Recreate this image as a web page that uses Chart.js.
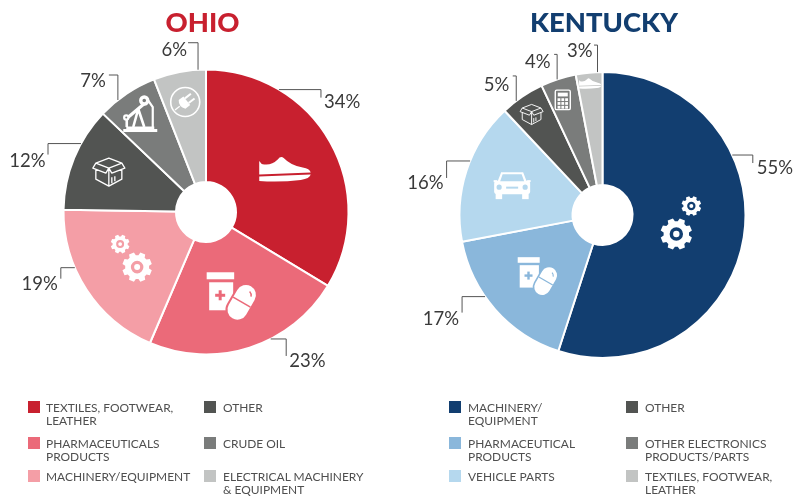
<!DOCTYPE html>
<html>
<head>
<meta charset="utf-8">
<title>Ohio and Kentucky exports</title>
<script src="https://cdn.jsdelivr.net/npm/chart.js@4"></script>
<style>
    html, body { margin: 0; padding: 0; background: #fff; }
    body { position: relative; width: 793px; height: 497px; overflow: hidden; font-family: Lato, sans-serif; }
    canvas { position: absolute; top: 0; }
    #ohio-chart { left: 0; }
    #kentucky-chart { left: 400px; }
    .state-title { position: absolute; top: 5px; font-size: 27.4px; line-height: 34px; font-weight: 900; white-space: nowrap; transform: translateX(-50%); }
    .legend-swatch { position: absolute; width: 12px; height: 12px; }
    .legend-text { position: absolute; font-size: 11.95px; line-height: 13.4px; color: #4f4f4f; white-space: pre-line; }
</style>
</head>
<body>
<canvas id="ohio-chart" width="400" height="497"></canvas>
<canvas id="kentucky-chart" width="393" height="497"></canvas>

<script>
// Ohio values
const ohioCategories = ['TEXTILES, FOOTWEAR,\nLEATHER', 'PHARMACEUTICALS\nPRODUCTS', 'MACHINERY/EQUIPMENT', 'OTHER', 'CRUDE OIL', 'ELECTRICAL MACHINERY\n& EQUIPMENT'];
const ohioValues = [34, 23, 19, 12, 7, 6];
const ohioColors = ['#C8202F', '#EB6A79', '#F49EA6', '#525452', '#7A7C7B', '#C2C4C3'];
const ohioIcons = ['shoe', 'pills', 'gearsLeft', 'box', 'pump', 'plug'];

// Kentucky values
const kentuckyCategories = ['MACHINERY/\nEQUIPMENT', 'PHARMACEUTICAL\nPRODUCTS', 'VEHICLE PARTS', 'OTHER', 'OTHER ELECTRONICS\nPRODUCTS/PARTS', 'TEXTILES, FOOTWEAR,\nLEATHER'];
const kentuckyValues = [55, 17, 16, 5, 4, 3];
const kentuckyColors = ['#123E70', '#8AB7DB', '#B5D8EE', '#525452', '#7A7C7B', '#C2C4C3'];
const kentuckyIcons = ['gearsRight', 'pills', 'car', 'box', 'calculator', 'shoe'];

// Leader lines: angle on the rim, horizontal leg, vertical leg, which leg comes first, label offset from the line end
const ohioLeaders = [
    [30.8, 42, 8, 'h', 3, 4],
    [153, 15.5, 17, 'h', 3, 5],
    [247, -14, 11, 'h', -3, 5],
    [298.7, -33, 11, 'h', -2.5, 6],
    [321.8, -9, -25, 'v', -3, 6],
    [356.8, -10, -27, 'v', -1, 7]
];
const kentuckyLeaders = [
    [65.2, 20.5, 8, 'h', 4, 5],
    [235.2, -23, 16, 'h', -3, 6],
    [292.2, -23.5, 17, 'h', -3, 5],
    [322.9, -3.5, -25, 'v', -3.5, 9],
    [341.5, -3, -25, 'v', -3.5, 7.5],
    [358, -3.5, -27, 'v', -1.5, 5.5]
];

// Icon placement: radius from the pie centre, shift from the slice's middle angle, size
const ohioIconSpots = [[89.5, 1, 1], [87, 1, 1], [89, 4, 1], [105, 0, 1], [118, 0, 1], [112, 0, 1]];
const kentuckyIconSpots = [[80, -5, 1.05], [89, -1.5, 0.8], [95, 0, 1], [123, -1, 0.72], [122, -1, 1], [132, 0, 0.43]];

function gear(ctx, cx, cy, r) {
    const teeth = 8;
    ctx.beginPath();
    for (let i = 0; i < teeth; i++) {
        const a = i * 2 * Math.PI / teeth + Math.PI / 8;
        const w = Math.PI / teeth;
        [[-0.72, 0.8], [-0.45, 1], [0.45, 1], [0.72, 0.8]].forEach(([t, rad]) => {
            const x = cx + Math.cos(a + t * w) * r * rad;
            const y = cy + Math.sin(a + t * w) * r * rad;
            ctx.lineTo(x, y);
        });
    }
    ctx.closePath();
    ctx.moveTo(cx + r * 0.42, cy);
    ctx.arc(cx, cy, r * 0.42, 0, 2 * Math.PI);
    ctx.moveTo(cx + r * 0.2, cy);
    ctx.arc(cx, cy, r * 0.2, 0, 2 * Math.PI);
    ctx.fill('evenodd');
}

// Small white pictograms, drawn around 0,0
const iconPainters = {
    shoe(ctx) {
        ctx.beginPath();
        ctx.moveTo(-25.5, -8.5);
        ctx.lineTo(-23, -5.5);
        ctx.quadraticCurveTo(-14, -3, -7, -10);
        ctx.quadraticCurveTo(-4, -14, -1, -11.5);
        ctx.quadraticCurveTo(6, -4, 18, -2);
        ctx.quadraticCurveTo(25, -1, 26, 3);
        ctx.lineTo(-25.5, 5);
        ctx.closePath();
        ctx.fill();
        ctx.beginPath();
        ctx.moveTo(-25.5, 7);
        ctx.lineTo(26, 5);
        ctx.quadraticCurveTo(25, 9, 16, 10.5);
        ctx.quadraticCurveTo(-5, 13, -25.5, 11.5);
        ctx.closePath();
        ctx.fill();
    },
    pills(ctx, color) {
        ctx.fillRect(-24.5, -23, 27.5, 7);
        ctx.fillRect(-22, -13, 24, 28);
        ctx.fillStyle = color;
        ctx.fillRect(-16, -1.5, 10, 3);
        ctx.fillRect(-12.5, -5, 3, 10);
        ctx.save();
        ctx.translate(10.5, 7);
        ctx.rotate(30 * Math.PI / 180);
        ctx.beginPath();
        ctx.roundRect(-12, -20.5, 24, 41, 12);
        ctx.fill();
        ctx.fillStyle = '#fff';
        ctx.beginPath();
        ctx.roundRect(-10, -18.5, 20, 37, 10);
        ctx.fill();
        ctx.fillStyle = color;
        ctx.fillRect(-10, -1, 20, 1.6);
        ctx.strokeStyle = color;
        ctx.lineWidth = 1.5;
        ctx.beginPath();
        ctx.arc(0, -8, 5.5, -1.3, -0.3);
        ctx.stroke();
        ctx.restore();
    },
    gearsLeft(ctx) {
        gear(ctx, 9, 12, 15);
        gear(ctx, -8, -11, 9.5);
    },
    gearsRight(ctx) {
        gear(ctx, -5.7, 12.8, 15.2);
        gear(ctx, 8.6, -13.9, 9.5);
    },
    box(ctx) {
        ctx.lineWidth = 1.3;
        ctx.lineJoin = 'round';
        ctx.beginPath();
        ctx.moveTo(0, -14); ctx.lineTo(-13, -9); ctx.lineTo(0, -4); ctx.lineTo(13, -9); ctx.closePath();
        ctx.moveTo(-13, -9); ctx.lineTo(-16, -4); ctx.lineTo(-3, 1); ctx.lineTo(0, -4);
        ctx.lineTo(3, 1); ctx.lineTo(16, -4); ctx.lineTo(13, -9);
        ctx.moveTo(-13, -3); ctx.lineTo(-13, 7); ctx.lineTo(0, 14); ctx.lineTo(13, 7); ctx.lineTo(13, -3);
        ctx.moveTo(0, -4); ctx.lineTo(0, 14);
        ctx.moveTo(3, 5); ctx.lineTo(3, 11);
        ctx.moveTo(6, 4); ctx.lineTo(6, 9);
        ctx.stroke();
    },
    pump(ctx, color) {
        ctx.fillRect(-17, 15, 34, 3);
        ctx.fillRect(-14, 12.5, 28, 2.5);
        ctx.lineWidth = 2.6;
        ctx.beginPath();
        ctx.moveTo(-7, 13); ctx.lineTo(-2, -5);
        ctx.moveTo(-2, -5); ctx.lineTo(4, 13);
        ctx.moveTo(-13.5, 3); ctx.lineTo(-13.5, 13);
        ctx.stroke();
        ctx.lineWidth = 3.2;
        ctx.beginPath();
        ctx.moveTo(-13, 4); ctx.lineTo(6, -12);
        ctx.stroke();
        ctx.lineWidth = 2.2;
        ctx.beginPath();
        ctx.moveTo(7, -15); ctx.lineTo(12.5, -7); ctx.lineTo(12.5, 13);
        ctx.stroke();
        ctx.beginPath();
        ctx.arc(-14, 3.5, 3.2, 0, 2 * Math.PI);
        ctx.arc(4, -13.5, 5.2, 0, 2 * Math.PI);
        ctx.fill();
        ctx.fillStyle = color;
        ctx.beginPath();
        ctx.arc(4, -13.5, 1.8, 0, 2 * Math.PI);
        ctx.moveTo(-14, 3.5);
        ctx.arc(-14, 3.5, 1, 0, 2 * Math.PI);
        ctx.fill();
    },
    plug(ctx) {
        ctx.lineWidth = 1.6;
        ctx.beginPath();
        ctx.arc(0, 0, 14.5, 0, 2 * Math.PI);
        ctx.stroke();
        ctx.rotate(-38 * Math.PI / 180);
        ctx.beginPath();
        ctx.moveTo(-4, -5.5); ctx.lineTo(2, -5.5); ctx.lineTo(2, 5.5); ctx.lineTo(-4, 5.5);
        ctx.quadraticCurveTo(-8.5, 0, -4, -5.5);
        ctx.fill();
        ctx.fillRect(2, -4, 7.5, 2);
        ctx.fillRect(2, 2, 7.5, 2);
        ctx.lineWidth = 1.3;
        ctx.beginPath();
        ctx.moveTo(-7, 0); ctx.lineTo(-13, 0);
        ctx.stroke();
    },
    car(ctx, color) {
        ctx.beginPath();
        ctx.moveTo(-11, -13.5); ctx.lineTo(11, -13.5); ctx.lineTo(15, -3); ctx.lineTo(-15, -3);
        ctx.closePath();
        ctx.fill();
        ctx.beginPath();
        ctx.roundRect(-18, -5, 36, 13.5, 3);
        ctx.fill();
        ctx.fillRect(-16.5, 8, 6.5, 5.5);
        ctx.fillRect(10, 8, 6.5, 5.5);
        ctx.fillRect(-18.5, -5.5, 3.5, 2);
        ctx.fillRect(15, -5.5, 3.5, 2);
        ctx.fillStyle = color;
        ctx.beginPath();
        ctx.moveTo(-9.5, -11.5); ctx.lineTo(9.5, -11.5); ctx.lineTo(12, -4.5); ctx.lineTo(-12, -4.5);
        ctx.closePath();
        ctx.fill();
        ctx.beginPath();
        ctx.arc(-13, 1.5, 2.6, 0, 2 * Math.PI);
        ctx.arc(13, 1.5, 2.6, 0, 2 * Math.PI);
        ctx.fill();
        ctx.fillRect(-6, 1, 12, 2);
    },
    calculator(ctx) {
        ctx.lineWidth = 1.4;
        ctx.beginPath();
        ctx.roundRect(-7.5, -9.5, 15, 19.5, 1.5);
        ctx.stroke();
        ctx.fillRect(-5, -7, 10, 3.8);
        for (let row = 0; row < 3; row++) {
            for (let col = 0; col < 3; col++) {
                ctx.fillRect(-5.2 + col * 3.8, -1.4 + row * 3.8, 2.8, 2.8);
            }
        }
    }
};

// Draws leader lines, percent labels and slice icons from the arcs of the chart
const calloutPlugin = {
    id: 'callouts',
    afterDatasetsDraw(chart, args, opts) {
        const ctx = chart.ctx;
        const arcs = chart.getDatasetMeta(0).data;
        const values = chart.data.datasets[0].data;
        const colors = chart.data.datasets[0].backgroundColor;

        arcs.forEach((arc, i) => {
            const cx = arc.x, cy = arc.y, R = arc.outerRadius;

            // icon
            const [iconRadius, shift, size] = opts.spots[i];
            const mid = (arc.startAngle + arc.endAngle) / 2 + shift * Math.PI / 180;
            ctx.save();
            ctx.translate(cx + Math.cos(mid) * iconRadius, cy + Math.sin(mid) * iconRadius);
            ctx.scale(size, size);
            ctx.fillStyle = '#fff';
            ctx.strokeStyle = '#fff';
            iconPainters[opts.icons[i]](ctx, colors[i]);
            ctx.restore();

            // leader line
            const [deg, across, down, first, lx, ly] = opts.leaders[i];
            const rad = deg * Math.PI / 180;
            const sx = cx + Math.sin(rad) * R, sy = cy - Math.cos(rad) * R;
            const ex = first === 'h' ? sx + across : sx;
            const ey = first === 'h' ? sy : sy + down;
            const fx = sx + across, fy = sy + down;
            ctx.save();
            ctx.strokeStyle = '#555';
            ctx.lineWidth = 1;
            ctx.beginPath();
            ctx.moveTo(sx, sy);
            ctx.lineTo(ex, ey);
            ctx.lineTo(fx, fy);
            ctx.stroke();

            // label
            ctx.fillStyle = '#3a3a3a';
            ctx.font = '400 18.5px Lato, sans-serif';
            ctx.textAlign = across > 0 ? 'left' : 'right';
            ctx.textBaseline = 'middle';
            ctx.fillText(values[i] + '%', fx + lx, fy + ly);
            ctx.restore();
        });
    }
};

function drawPie(canvasId, categories, values, colors, icons, leaders, spots, padding) {
    const ctx = document.getElementById(canvasId).getContext('2d');
    return new Chart(ctx, {
        type: 'doughnut',
        data: {
            labels: categories,
            datasets: [{
                data: values,
                backgroundColor: colors,
                borderColor: '#fff',
                borderWidth: 2
            }]
        },
        options: {
            responsive: false,
            animation: false,
            cutout: 30,
            layout: { padding: padding },
            plugins: {
                legend: { display: false },
                tooltip: { enabled: false },
                callouts: { icons: icons, leaders: leaders, spots: spots }
            }
        },
        plugins: [calloutPlugin]
    });
}

// Two column legend under each pie, filled down the left column first
function addLegend(categories, colors, swatchX, textX) {
    const rowTops = [401, 437, 470];
    categories.forEach((name, i) => {
        const col = i < 3 ? 0 : 1;
        const top = rowTops[i % 3];
        const swatch = document.createElement('div');
        swatch.className = 'legend-swatch';
        swatch.style.left = swatchX[col] + 'px';
        swatch.style.top = top + 'px';
        swatch.style.background = colors[i];
        document.body.appendChild(swatch);

        const text = document.createElement('div');
        text.className = 'legend-text';
        text.style.left = textX[col] + 'px';
        text.style.top = (top - 0.5) + 'px';
        text.textContent = name;
        document.body.appendChild(text);
    });
}

function addTitle(text, centerX, color) {
    const title = document.createElement('div');
    title.className = 'state-title';
    title.style.left = centerX + 'px';
    title.style.color = color;
    title.textContent = text;
    document.body.appendChild(title);
}

addTitle('OHIO', 202.5, '#C8202F');
addTitle('KENTUCKY', 604, '#123E70');
drawPie('ohio-chart', ohioCategories, ohioValues, ohioColors, ohioIcons, ohioLeaders, ohioIconSpots,
    { left: 62.5, right: 50.5, top: 68.5, bottom: 141.5 });
drawPie('kentucky-chart', kentuckyCategories, kentuckyValues, kentuckyColors, kentuckyIcons, kentuckyLeaders, kentuckyIconSpots,
    { left: 58.5, right: 46.5, top: 71, bottom: 138 });
addLegend(ohioCategories, ohioColors, [28, 204], [46, 223]);
addLegend(kentuckyCategories, kentuckyColors, [449, 626], [468, 645]);
</script>
</body>
</html>
